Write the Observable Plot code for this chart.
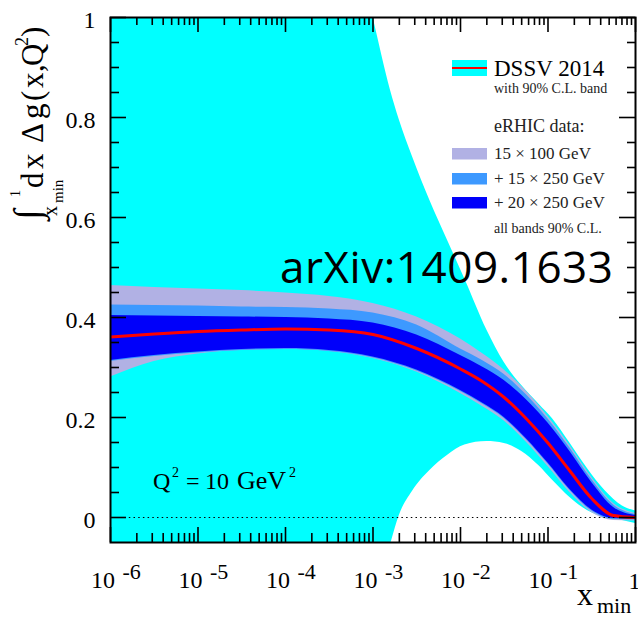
<!DOCTYPE html>
<html><head><meta charset="utf-8">
<script src="https://cdn.jsdelivr.net/npm/d3@7"></script>
<script src="https://cdn.jsdelivr.net/npm/@observablehq/plot@0.6"></script>
<style>body{margin:0;background:#fff} svg{display:block}</style>
</head><body><div id="chart"></div>
<script>
// x_min grid for the eRHIC bands and DSSV central curve
const xGrid = [1e-6, 3.16e-6, 1e-5, 3.16e-5, 1e-4, 3.16e-4, 1e-3, 3.16e-3, 1e-2, 1.78e-2, 3.16e-2, 5.62e-2, 0.1, 0.178, 0.316, 0.562, 1];
const central = [0.361, 0.367, 0.372, 0.375, 0.377, 0.375, 0.366, 0.338, 0.297, 0.272, 0.240, 0.198, 0.149, 0.093, 0.038, 0.004, 0.000];
// eRHIC 15x100 GeV (lavender)
const band1Lo = [0.281, 0.312, 0.327, 0.334, 0.336, 0.332, 0.318, 0.291, 0.248, 0.222, 0.193, 0.151, 0.102, 0.050, 0.010, -0.006, -0.007];
const band1Hi = [0.464, 0.460, 0.457, 0.454, 0.449, 0.442, 0.428, 0.401, 0.357, 0.328, 0.295, 0.253, 0.202, 0.144, 0.080, 0.028, 0.008];
// + 15x250 GeV (light blue)
const band2Lo = [0.312, 0.322, 0.329, 0.334, 0.336, 0.332, 0.319, 0.293, 0.252, 0.227, 0.198, 0.156, 0.107, 0.054, 0.013, -0.004, -0.005];
const band2Hi = [0.425, 0.424, 0.423, 0.421, 0.420, 0.417, 0.409, 0.385, 0.337, 0.314, 0.286, 0.246, 0.197, 0.139, 0.076, 0.025, 0.006];
// + 20x250 GeV (blue)
const band3Lo = [0.314, 0.324, 0.331, 0.336, 0.338, 0.334, 0.321, 0.295, 0.254, 0.229, 0.200, 0.158, 0.109, 0.056, 0.015, -0.002, -0.003];
const band3Hi = [0.404, 0.403, 0.402, 0.401, 0.400, 0.397, 0.389, 0.365, 0.324, 0.301, 0.274, 0.236, 0.189, 0.132, 0.070, 0.020, 0.004];
// DSSV 2014 90% C.L. band (cyan)
const dssvX  = [1e-6, 1e-4, 3.16e-4, 5.62e-4, 1e-3, 1.58e-3, 2.0e-3, 2.82e-3, 4.47e-3, 7.08e-3, 1.12e-2, 2.0e-2, 3.16e-2, 5.01e-2, 7.94e-2, 0.112, 0.178, 0.282, 0.447, 0.708, 1];
const dssvLo = [-1.2, -0.75, -0.45, -0.30, -0.17, -0.055, 0.004, 0.052, 0.094, 0.124, 0.145, 0.152, 0.148, 0.132, 0.103, 0.075, 0.040, 0.014, 0.000, -0.006, -0.012];
const dssvHi = [3.0, 2.2, 1.45, 1.17, 1.0, 0.855, 0.795, 0.722, 0.634, 0.555, 0.477, 0.375, 0.310, 0.264, 0.226, 0.198, 0.149, 0.098, 0.054, 0.023, 0.013];
// axes
const xMajor = [1e-6, 1e-5, 1e-4, 1e-3, 1e-2, 1e-1, 1];
const xExp = ["-6", "-5", "-4", "-3", "-2", "-1"];
const yMajor = [0, 0.2, 0.4, 0.6, 0.8, 1];
const yLabels = ["0", "0.2", "0.4", "0.6", "0.8", "1"];
const yMinor = [0.05, 0.1, 0.15, 0.25, 0.3, 0.35, 0.45, 0.5, 0.55, 0.65, 0.7, 0.75, 0.85, 0.9, 0.95];
const xMinor = [];
for (const d of xMajor.slice(0, -1)) for (let m = 2; m < 10; m++) xMinor.push(m * d);

const bands = xGrid.map((x, i) => ({x, c: central[i], l1: band1Lo[i], h1: band1Hi[i], l2: band2Lo[i], h2: band2Hi[i], l3: band3Lo[i], h3: band3Hi[i]}));
const dssv = dssvX.map((x, i) => ({x, lo: dssvLo[i], hi: dssvHi[i]}));

const FW = 525, FH = 525; // frame size in px
const serif = "'Liberation Serif', 'Times New Roman', serif";
const C = {cyan: "#00ffff", lav: "#b1b1e4", light: "#3d99ff", blue: "#0000fa", red: "#ff0000"};

const chart = Plot.plot({
  width: 638, height: 617,
  marginLeft: 110, marginRight: 3, marginTop: 17, marginBottom: 75,
  x: {type: "log", domain: [1e-6, 1], axis: null},
  y: {domain: [-0.05, 1], axis: null},
  style: {background: "white", fontFamily: serif, overflow: "visible"},
  marks: [
    Plot.areaY(dssv, {x: "x", y1: "lo", y2: "hi", fill: C.cyan, curve: "monotone-x", clip: true}),
    Plot.areaY(bands, {x: "x", y1: "l1", y2: "h1", fill: C.lav, curve: "monotone-x", clip: true}),
    Plot.areaY(bands, {x: "x", y1: "l2", y2: "h2", fill: C.light, curve: "monotone-x", clip: true}),
    Plot.areaY(bands, {x: "x", y1: "l3", y2: "h3", fill: C.blue, curve: "monotone-x", clip: true}),
    Plot.ruleY([0], {stroke: "black", strokeWidth: 1.2, strokeDasharray: "1.5,3.2"}),
    Plot.lineY(bands, {x: "x", y: "c", stroke: C.red, strokeWidth: 3, curve: "monotone-x", clip: true}),
    // y ticks (left and right, inward)
    Plot.ruleY(yMajor, {y: d => d, stroke: "black", strokeWidth: 1.6, insetRight: FW - 16}),
    Plot.ruleY(yMinor, {y: d => d, stroke: "black", strokeWidth: 1.6, insetRight: FW - 9}),
    Plot.ruleY(yMajor, {y: d => d, stroke: "black", strokeWidth: 1.6, insetLeft: FW - 16}),
    Plot.ruleY(yMinor, {y: d => d, stroke: "black", strokeWidth: 1.6, insetLeft: FW - 8}),
    // x ticks (bottom and top, inward)
    Plot.ruleX(xMajor, {x: d => d, stroke: "black", strokeWidth: 1.6, insetTop: FH - 15}),
    Plot.ruleX(xMinor, {x: d => d, stroke: "black", strokeWidth: 1.6, insetTop: FH - 9}),
    Plot.ruleX(xMajor, {x: d => d, stroke: "black", strokeWidth: 1.6, insetBottom: FH - 15}),
    Plot.ruleX(xMinor, {x: d => d, stroke: "black", strokeWidth: 1.6, insetBottom: FH - 8}),
    Plot.frame({stroke: "black", strokeWidth: 2}),
    // tick labels
    Plot.text(yMajor, {y: d => d, text: (d, i) => yLabels[i], frameAnchor: "left", textAnchor: "end", dx: -15, dy: 3, fontSize: 24, fill: "black"}),
    Plot.text(xMajor.slice(0, 6), {x: d => d, text: () => "10", frameAnchor: "bottom", textAnchor: "end", lineAnchor: "bottom", dx: 4.5, dy: 45, fontSize: 24, fill: "black"}),
    Plot.text(xMajor.slice(0, 6), {x: d => d, text: (d, i) => xExp[i], frameAnchor: "bottom", textAnchor: "start", lineAnchor: "bottom", dx: 12, dy: 36, fontSize: 22, fill: "black"}),
    Plot.text([1], {x: d => d, text: () => "1", frameAnchor: "bottom", textAnchor: "middle", lineAnchor: "bottom", dx: -1, dy: 46, fontSize: 24, fill: "black"})
  ]
});
document.getElementById("chart").append(chart);

const svg = d3.select(chart);
function txt(parent, s, x, y, size, opts = {}) {
  const t = parent.append("text").attr("x", x).attr("y", y).attr("font-size", size)
    .attr("font-family", opts.family || serif).attr("fill", opts.fill || "black")
    .attr("text-anchor", opts.anchor || "start").text(s);
  if (opts.len) t.attr("textLength", opts.len);
  return t;
}

// y axis title (rotated)
const yl = svg.append("g").attr("transform", "translate(43,220) rotate(-90)");
[["\u222B", 0, -3, 38], ["1", 23, -23, 14], ["x", 4, 14, 20], ["min", 17, 20, 15],
 ["d", 32, 0, 31], ["x", 51, 0, 31], ["\u0394", 77, 0, 31], ["g", 101, 0, 31], ["(", 119, 0, 31],
 ["x", 132, 0, 31], [",", 148, 0, 31], ["Q", 154, 0, 31], ["2", 174, -15, 18], [")", 183, 0, 31]]
  .forEach(([s, x, y, f]) => txt(yl, s, x, y, f));

// x axis title
txt(svg, "x", 577, 605, 32);
txt(svg, "min", 597, 613, 22);

// Q^2 annotation
txt(svg, "Q", 153, 489, 24);
txt(svg, "2", 172, 477, 14);
txt(svg, "=", 186, 489, 24);
txt(svg, "10", 205, 489, 24);
txt(svg, "GeV", 237, 489, 26);
txt(svg, "2", 289, 477, 14);

// arXiv stamp
txt(svg, "arXiv:1409.1633", 280, 283, 44, {family: "'Open Sans', sans-serif", len: 333});

// legend
const lg = svg.append("g");
lg.append("rect").attr("x", 452).attr("y", 60).attr("width", 35).attr("height", 16).attr("fill", C.cyan);
lg.append("line").attr("x1", 452).attr("x2", 487).attr("y1", 68).attr("y2", 68).attr("stroke", C.red).attr("stroke-width", 2);
txt(lg, "DSSV 2014", 494, 76, 23);
txt(lg, "with 90% C.L. band", 494, 92.5, 14, {fill: "#222"});
txt(lg, "eRHIC data:", 494, 131.5, 18, {fill: "#222"});
[[C.lav, 148, "15 \u00D7 100 GeV", 158.5], [C.light, 173, "+ 15 \u00D7 250 GeV", 184], [C.blue, 197, "+ 20 \u00D7 250 GeV", 208]]
  .forEach(([col, y, s, by]) => {
    lg.append("rect").attr("x", 452).attr("y", y).attr("width", 35).attr("height", 11.5).attr("fill", col);
    txt(lg, s, 494, by, 17, {fill: "#222"});
  });
txt(lg, "all bands 90% C.L.", 494, 232.5, 14, {fill: "#222"});
</script>
</body></html>
